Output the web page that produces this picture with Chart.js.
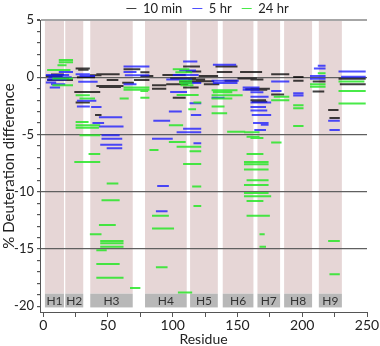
<!DOCTYPE html>
<html>
<head>
<meta charset="utf-8">
<script src="https://cdn.jsdelivr.net/npm/chart.js"></script>
<style>
body { margin: 0; background: #fff; }
</style>
</head>
<body>
<canvas id="chart" width="380" height="346"></canvas>
<script>
// peptides: [first residue, last residue, % deuteration difference]
var tenMin = [
    [3,23,-0.25],[6,16,0.25],[2,15,0.1],[8,20,-0.1],
    [25,36,0.76],[27,35,0.66],[26,40,0.0],[36,45,0.17],[41,59,0.26],[49,58,-0.23],[41,62,-0.76],[43,60,-0.85],[24,44,-1.28],[25,36,-2.2],[40,45,-3.3],
    [62,75,0.7],[70,82,-0.23],[61,70,-0.47],
    [75,82,0.44],[75,85,0.1],[84,95,-0.7],[84,95,-1.0],[100,110,-1.78],[92,110,0.2],[98,118,-0.1],[105,122,-0.4],[95,112,-0.6],[108,121,0.93],[110,122,0.5],[112,125,-0.2],[108,120,-0.9],
    [133,150,0.93],[134,146,0.46],[120,135,0.1],[118,132,-0.35],[124,136,-0.6],
    [152,167,0.46],[150,165,-0.1],[140,150,-0.3],[156,167,-1.05],
    [160,169,0.46],[160,170,-0.2],[160,175,-1.0],[160,173,-1.1],[160,172,-2.0],[161,173,-2.15],
    [176,190,0.26],[176,186,-1.5],
    [193,201,0.03],[193,201,-0.3],
    [208,218,-0.38],[208,217,-1.25],
    [228,249,-0.14],[229,249,-0.6],[220,228,-2.86],[221,229,-3.55]
];
var fiveHr = [
    [12,23,0.46],[2,20,0.2],[4,22,0.0],[3,18,-0.2],[6,17,-0.6],[5,13,-0.9],[2,10,-0.45],
    [25,36,0.26],[28,40,0.1],[27,42,-0.4],[26,41,-2.06],[26,36,-2.56],[37,45,-2.6],[43,61,-3.5],[38,47,-4.0],[43,62,-4.3],[45,59,-5.07],[45,61,-5.36],[44,61,-5.9],[49,61,-6.2],
    [62,82,0.93],[62,72,0.46],[63,82,0.17],[62,72,-0.6],
    [75,82,0.93],[84,100,-5.36],[85,98,-3.8],[88,97,-9.5],[87,96,-11.7],[98,111,-1.28],[97,107,-3.0],[113,122,-2.27],[114,122,-3.3],[108,122,-4.5],[103,122,-4.8],[116,122,-5.77],[108,119,1.37],[100,120,0.2],[95,115,-0.2],[108,122,-0.5],[105,118,0.6],
    [130,151,-0.3],[131,150,-0.5],[131,149,1.1],[130,140,-1.78],
    [154,167,-0.9],[154,167,-1.1],[160,170,-1.3],[160,174,-1.7],[160,176,-2.2],[160,172,-2.6],[160,173,-2.9],[161,176,-3.3],[162,174,-4.0],[168,174,-4.15],[163,172,-4.6],
    [176,190,-0.38],[176,184,-1.2],
    [193,201,-1.4],[193,201,-1.6],
    [209,218,0.76],[212,218,1.0],[206,218,0.1],[206,218,-0.14],[220,229,-3.8],[221,229,-4.6],[228,249,0.5],[230,249,0.05]
];
var twentyFourHr = [
    [12,23,1.5],[12,23,1.3],[11,18,1.05],[3,21,0.64],[7,23,-0.1],[7,23,-0.7],
    [25,36,-1.57],[28,40,-1.86],[25,35,-3.9],[25,44,-4.2],[25,43,-4.4],[28,44,-5.07],[35,44,-6.7],[24,44,-7.4],[49,58,-9.27],[45,59,-10.75],[43,56,-12.9],[36,45,-13.7],[44,62,-14.3],[44,62,-14.5],[44,62,-14.8],[41,49,-15.1],[41,59,-16.3],[41,62,-17.5],[67,75,-18.4],
    [62,82,-0.9],[62,82,-1.1],[59,66,-1.86],[75,82,-1.8],[75,81,-1.2],
    [97,110,-5.65],[82,89,-6.35],[84,97,-12.1],[84,101,-13.2],[87,96,-16.6],[97,108,-4.2],[104,115,-18.8],[103,122,-6.06],[113,122,-6.47],[108,122,-7.58],[115,122,-9.55],[116,122,-11.25],
    [100,113,0.7],[102,115,0.44],[105,115,-0.3],[105,115,-0.5],[106,116,-0.7],[103,120,-1.54],[112,118,-2.8],[116,122,-2.2],
    [130,150,-1.14],[131,146,-1.3],[130,154,-1.57],[130,146,-1.86],[130,140,-2.56],[130,142,-3.15],[142,156,-4.75],[155,167,-4.8],[157,167,-5.2],
    [160,170,-5.3],[157,170,-6.7],[155,174,-7.4],[155,174,-7.6],[155,174,-8.05],[157,174,-9.0],[155,174,-9.4],[155,174,-10.1],[155,176,-10.4],[157,170,-10.8],[157,175,-12.1],[167,171,-13.7],[167,172,-14.8],
    [176,184,-5.7],[178,190,-1.7],[176,190,-2.0],
    [193,201,-2.45],[193,201,-2.7],[193,201,-4.26],
    [212,218,0.35],[206,218,-0.6],[206,218,-0.84],[228,248,-0.38],[228,249,-1.2],[228,249,-2.3],[220,229,-14.3],[221,229,-17.2]
];

var helixNames = ['H1','H2','H3','H4','H5','H6','H7','H8','H9'];
var helixStart = [1.3, 17, 36.3, 78.6, 113.4, 138.6, 165.4, 186, 212.8];
var helixEnd = [16, 30.9, 69.1, 110.8, 134.8, 162.3, 182.9, 207.6, 230.6];

var xTicks = [0, 25, 50, 75, 100, 125, 150, 175, 200, 225, 250];
var yTicks = [];
for (var v = -20; v <= 5; v++) yTicks.push(v);

var FONT = 'Lato, "Open Sans", sans-serif';

// each peptide becomes one flat segment, null breaks the line between them
function toSegments(list) {
    var pts = [];
    list.forEach(function (p) {
        pts.push({x: p[0], y: p[2]});
        pts.push({x: p[1], y: p[2]});
        pts.push({x: p[1], y: null});
    });
    return pts;
}

// pink helix columns and the grey labels along the bottom
var helixPlugin = {
    id: 'helices',
    beforeDraw: function (chart) {
        var ctx = chart.ctx, x = chart.scales.x, y = chart.scales.y;
        var top = y.getPixelForValue(5), mid = y.getPixelForValue(-18.9), bot = y.getPixelForValue(-20.1);
        ctx.save();
        for (var i = 0; i < helixNames.length; i++) {
            var l = x.getPixelForValue(helixStart[i]), r = x.getPixelForValue(helixEnd[i]);
            ctx.fillStyle = '#e6d6d6';
            ctx.fillRect(l, top, r - l, mid - top);
            ctx.fillStyle = '#b8b8b8';
            ctx.fillRect(l, mid, r - l, bot - mid);
            ctx.fillStyle = '#333';
            ctx.font = '12px ' + FONT;
            ctx.textAlign = 'center';
            ctx.textBaseline = 'middle';
            ctx.fillText(helixNames[i], (l + r) / 2, (mid + bot) / 2 + 1);
        }
        ctx.restore();
    },
    afterLayout: function (chart) {
        // nudge the legend over the middle of the plot, a bit lower
        chart.legend.left += 24;
        chart.legend.right += 24;
        chart.legend.top += 5;
        chart.legend.bottom += 5;
    }
};

new Chart(document.getElementById('chart'), {
    type: 'line',
    data: {
        datasets: [
            {label: '10 min', data: toSegments(tenMin), borderColor: 'rgba(0,0,0,0.75)', backgroundColor: 'rgba(0,0,0,0.75)', order: 3},
            {label: '5 hr', data: toSegments(fiveHr), borderColor: 'rgba(20,20,255,0.75)', backgroundColor: 'rgba(20,20,255,0.75)', order: 2},
            {label: '24 hr', data: toSegments(twentyFourHr), borderColor: 'rgba(40,230,40,0.85)', backgroundColor: 'rgba(40,230,40,0.85)', order: 1}
        ]
    },
    options: {
        responsive: false,
        animation: false,
        layout: {padding: {top: -13, right: 13, left: 0, bottom: 0}},
        elements: {
            line: {borderWidth: 2, tension: 0},
            point: {radius: 0}
        },
        plugins: {
            tooltip: {enabled: false},
            legend: {
                position: 'top',
                align: 'center',
                labels: {
                    usePointStyle: true,
                    pointStyle: 'line',
                    pointStyleWidth: 10,
                    boxHeight: 13,
                    padding: 10,
                    color: '#222',
                    font: {family: FONT, size: 13},
                    sort: function (a, b) { return a.datasetIndex - b.datasetIndex; }
                }
            }
        },
        scales: {
            x: {
                type: 'linear',
                min: -2.5,
                max: 250,
                afterBuildTicks: function (scale) {
                    scale.ticks = xTicks.map(function (t) { return {value: t}; });
                },
                afterFit: function (scale) { scale.height = 34; },
                grid: {drawOnChartArea: false, drawTicks: true, tickLength: 5, color: '#555'},
                border: {color: '#555', width: 1},
                ticks: {
                    padding: 0,
                    maxRotation: 0,
                    autoSkip: false,
                    color: '#222',
                    font: {family: FONT, size: 14},
                    callback: function (val) { return val % 50 === 0 ? String(val) : ''; }
                },
                title: {display: true, text: 'Residue', color: '#222', padding: 0, font: {family: FONT, size: 14, lineHeight: 1}}
            },
            y: {
                min: -20.5,
                max: 5,
                afterBuildTicks: function (scale) {
                    scale.ticks = yTicks.map(function (t) { return {value: t}; });
                },
                afterFit: function (scale) { scale.width = 40; },
                grid: {
                    drawTicks: true,
                    tickLength: 3,
                    tickColor: '#555',
                    color: function (c) {
                        var t = c.tick ? c.tick.value : 0;
                        if (t === 5) return '#a6a6a6';
                        if (t === -20 || t % 5 !== 0) return 'rgba(0,0,0,0)';
                        return '#606060';
                    },
                    lineWidth: function (c) {
                        return c.tick && c.tick.value === 5 ? 2 : 1.2;
                    }
                },
                border: {color: '#555', width: 1},
                ticks: {
                    padding: 3,
                    autoSkip: false,
                    color: '#222',
                    font: {family: FONT, size: 13},
                    callback: function (val) { return val % 5 === 0 ? String(val) : ''; }
                },
                title: {display: true, text: '% Deuteration difference', color: '#222', padding: 0, font: {family: FONT, size: 15}}
            }
        }
    },
    plugins: [helixPlugin]
});
</script>
</body>
</html>
